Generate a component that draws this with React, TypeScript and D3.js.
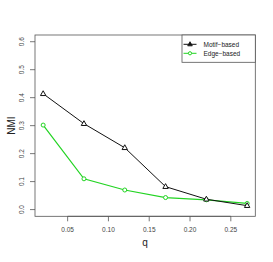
import * as d3 from "d3";
import { useEffect, useRef } from "react";

const qValues = [0.02, 0.07, 0.12, 0.17, 0.22, 0.27];
const motifBased = [0.414, 0.307, 0.221, 0.082, 0.037, 0.014];
const edgeBased = [0.302, 0.11, 0.07, 0.043, 0.035, 0.022];
const xTicks = [0.05, 0.1, 0.15, 0.2, 0.25];
const yTicks = [0, 0.1, 0.2, 0.3, 0.4, 0.5, 0.6];
const seriesNames = ["Motif\u2212based", "Edge\u2212based"];

const W = 273;
const H = 262;
const GREEN = "#22d422";

export default function App() {
  const ref = useRef<SVGSVGElement | null>(null);

  useEffect(() => {
    const svg = d3.select(ref.current);
    svg.selectAll("*").remove();

    const left = 35, right = 255.3, top = 35, bottom = 216.3;
    const font = "Liberation Sans, Arial, sans-serif";

    // R style 4% padding on domain
    const x = d3.scaleLinear().domain([0.01, 0.28]).range([left, right]);
    const y = d3.scaleLinear().domain([-0.024, 0.624]).range([bottom, top]);

    svg.append("rect").attr("width", W).attr("height", H).attr("fill", "#fff");

    // box
    svg
      .append("rect")
      .attr("x", left)
      .attr("y", top)
      .attr("width", right - left)
      .attr("height", bottom - top)
      .attr("fill", "none")
      .attr("stroke", "#555")
      .attr("stroke-width", 0.8);

    // x axis
    const gx = svg.append("g").attr("transform", `translate(0,${bottom})`);
    gx.append("line")
      .attr("x1", x(xTicks[0]))
      .attr("x2", x(xTicks[xTicks.length - 1]))
      .attr("stroke", "#555")
      .attr("stroke-width", 0.8);
    xTicks.forEach((t) => {
      gx.append("line")
        .attr("x1", x(t))
        .attr("x2", x(t))
        .attr("y1", 0)
        .attr("y2", 5)
        .attr("stroke", "#555")
        .attr("stroke-width", 0.8);
      gx.append("text")
        .attr("x", x(t))
        .attr("y", 16)
        .attr("text-anchor", "middle")
        .attr("font-family", font)
        .attr("font-size", 6.5)
        .attr("fill", "#444")
        .text(t.toFixed(2));
    });

    // y axis
    const gy = svg.append("g").attr("transform", `translate(${left},0)`);
    yTicks.forEach((t) => {
      gy.append("line")
        .attr("x1", 0)
        .attr("x2", -5)
        .attr("y1", y(t))
        .attr("y2", y(t))
        .attr("stroke", "#555")
        .attr("stroke-width", 0.8);
      gy.append("text")
        .attr("transform", `translate(-11,${y(t)}) rotate(-90)`)
        .attr("text-anchor", "middle")
        .attr("font-family", font)
        .attr("font-size", 6.5)
        .attr("fill", "#444")
        .text(t.toFixed(1));
    });

    // axis titles
    svg
      .append("text")
      .attr("x", (left + right) / 2)
      .attr("y", 246)
      .attr("text-anchor", "middle")
      .attr("font-family", font)
      .attr("font-size", 10)
      .attr("fill", "#222")
      .text("q");
    svg
      .append("text")
      .attr("transform", `translate(15,${(top + bottom) / 2}) rotate(-90)`)
      .attr("text-anchor", "middle")
      .attr("font-family", font)
      .attr("font-size", 10)
      .attr("fill", "#222")
      .text("NMI");

    const line = d3
      .line<number>()
      .x((_, i) => x(qValues[i]))
      .y((d) => y(d));

    const tri = (cx: number, cy: number, s: number) =>
      `M${cx},${cy - s}L${cx + s * 0.9},${cy + s * 0.6}L${cx - s * 0.9},${cy + s * 0.6}Z`;

    // edge-based series
    svg
      .append("path")
      .datum(edgeBased)
      .attr("d", line)
      .attr("fill", "none")
      .attr("stroke", GREEN)
      .attr("stroke-width", 1.2);
    edgeBased.forEach((v, i) => {
      svg
        .append("circle")
        .attr("cx", x(qValues[i]))
        .attr("cy", y(v))
        .attr("r", 2)
        .attr("fill", "#fff")
        .attr("stroke", GREEN)
        .attr("stroke-width", 1);
    });

    // motif-based series
    svg
      .append("path")
      .datum(motifBased)
      .attr("d", line)
      .attr("fill", "none")
      .attr("stroke", "#111")
      .attr("stroke-width", 1);
    motifBased.forEach((v, i) => {
      svg
        .append("path")
        .attr("d", tri(x(qValues[i]), y(v), 3))
        .attr("fill", "#fff")
        .attr("stroke", "#111")
        .attr("stroke-width", 1);
    });

    // legend
    const lg = svg.append("g");
    lg.append("rect")
      .attr("x", 182)
      .attr("y", top)
      .attr("width", right - 182)
      .attr("height", 27.3)
      .attr("fill", "#fff")
      .attr("stroke", "#555")
      .attr("stroke-width", 0.8);
    const colors = ["#111", GREEN];
    seriesNames.forEach((name, i) => {
      const ly = 44.3 + i * 9;
      lg.append("line")
        .attr("x1", 183.5)
        .attr("x2", 196.5)
        .attr("y1", ly)
        .attr("y2", ly)
        .attr("stroke", colors[i])
        .attr("stroke-width", 1);
      if (i === 0) {
        lg.append("path")
          .attr("d", tri(190, ly, 2.6))
          .attr("fill", "#111")
          .attr("stroke", "#111")
          .attr("stroke-width", 0.8);
      } else {
        lg.append("circle")
          .attr("cx", 190)
          .attr("cy", ly)
          .attr("r", 1.6)
          .attr("fill", "#fff")
          .attr("stroke", GREEN)
          .attr("stroke-width", 1);
      }
      lg.append("text")
        .attr("x", 203.5)
        .attr("y", ly + 2.4)
        .attr("font-family", font)
        .attr("font-size", 6.5)
        .attr("fill", "#222")
        .text(name);
    });
  }, []);

  return (
    <svg
      ref={ref}
      width={W}
      height={H}
      style={{ position: "absolute", left: 0, top: 0, display: "block" }}
    />
  );
}
